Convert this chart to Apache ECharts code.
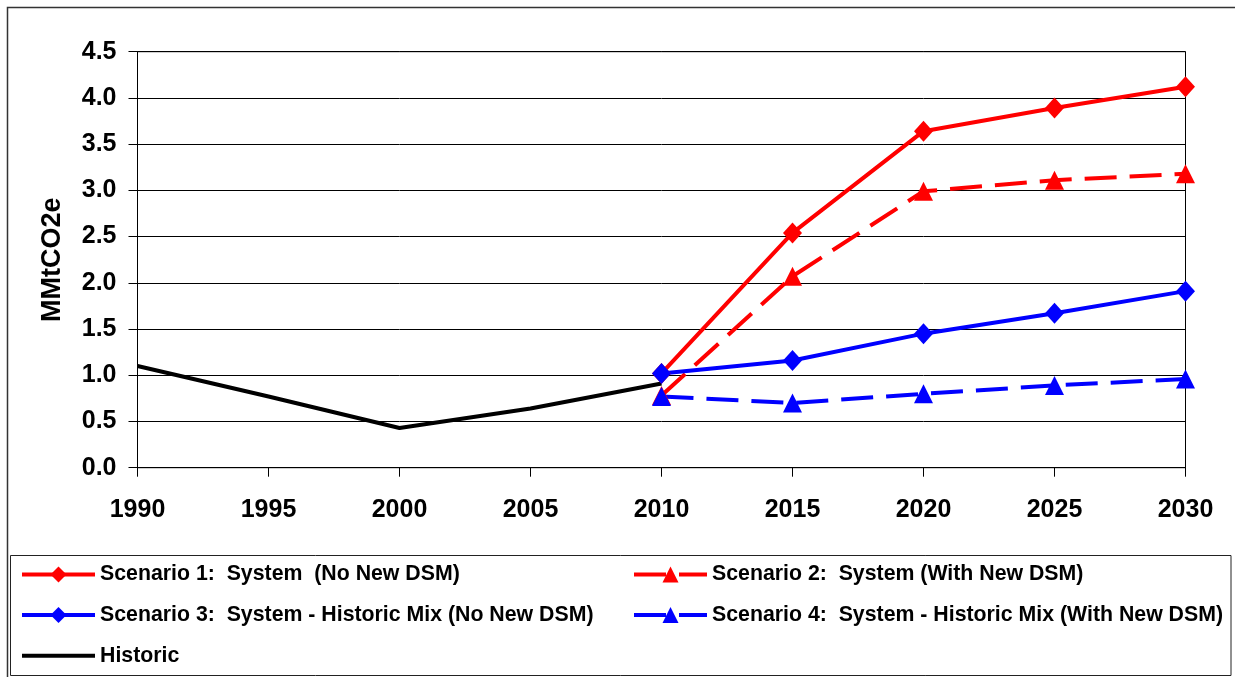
<!DOCTYPE html>
<html>
<head>
<meta charset="utf-8">
<script src="https://cdn.jsdelivr.net/npm/echarts@6/dist/echarts.min.js"></script>
<style>
  html, body { margin: 0; padding: 0; background: #fff; }
  #chart { width: 1235px; height: 677px; }
</style>
</head>
<body>
<div id="chart"></div>
<script>
// Emissions by year, MMtCO2e
const years = ['1990', '1995', '2000', '2005', '2010', '2015', '2020', '2025', '2030'];
const historic  = [1.10, 0.77, 0.43, 0.64, 0.91, null, null, null, null];
const scenario1 = [null, null, null, null, 1.02, 2.54, 3.64, 3.89, 4.12];
const scenario2 = [null, null, null, null, 0.78, 2.07, 2.99, 3.11, 3.18];
const scenario3 = [null, null, null, null, 1.02, 1.16, 1.45, 1.67, 1.91];
const scenario4 = [null, null, null, null, 0.77, 0.70, 0.80, 0.89, 0.96];

const names = [
  'Scenario 1:  System  (No New DSM)',
  'Scenario 2:  System (With New DSM)',
  'Scenario 3:  System - Historic Mix (No New DSM)',
  'Scenario 4:  System - Historic Mix (With New DSM)',
  'Historic'
];

const FONT = '"Liberation Sans", Arial, sans-serif';
const dash = [32, 13];

function lineSeries(name, data, color, symbol, dashed) {
  return {
    name: name,
    type: 'line',
    data: data,
    connectNulls: false,
    symbol: symbol,
    symbolSize: symbol === 'triangle' ? [19, 19] : [19, 21],
    showSymbol: symbol !== 'none',
    itemStyle: { color: color },
    lineStyle: { color: color, width: 4, type: dashed ? dash : 'solid', cap: 'butt' },
    emphasis: { disabled: true },
    animation: false
  };
}

// legend entry with the same thick stroke as the plotted line
function legendItem(name, dashed, noMarker) {
  const item = { name: name, lineStyle: { width: 4, type: dashed ? dash : 'solid' } };
  if (noMarker) item.itemStyle = { opacity: 0 };
  return item;
}

const chart = echarts.init(document.getElementById('chart'), null, { renderer: 'canvas' });

const legendText = { fontFamily: FONT, fontWeight: 'bold', fontSize: 21.3, color: '#000', lineHeight: 21 };

chart.setOption({
  backgroundColor: '#fff',
  animation: false,
  grid: {
    left: 137.5, right: 49.5, top: 51.7, bottom: 209.3,
    show: true, borderColor: '#000', borderWidth: 1, backgroundColor: 'transparent'
  },
  xAxis: {
    type: 'category',
    data: years,
    boundaryGap: false,
    axisLine: { show: true, lineStyle: { color: '#000', width: 1 } },
    axisTick: { show: true, inside: false, length: 9, interval: 0, lineStyle: { color: '#000' } },
    axisLabel: { interval: 0, margin: 30, fontFamily: FONT, fontWeight: 'bold', fontSize: 25, color: '#000' },
    splitLine: { show: false }
  },
  yAxis: {
    type: 'value',
    min: 0, max: 4.5, interval: 0.5,
    name: 'MMtCO2e',
    nameLocation: 'middle',
    nameRotate: 90,
    nameGap: 71,
    nameTextStyle: { fontFamily: FONT, fontWeight: 'bold', fontSize: 27, color: '#000' },
    axisLine: { show: true, lineStyle: { color: '#000', width: 1 } },
    axisTick: { show: true, inside: false, length: 9, lineStyle: { color: '#000' } },
    axisLabel: {
      margin: 21, fontFamily: FONT, fontWeight: 'bold', fontSize: 25, color: '#000',
      formatter: v => v.toFixed(1)
    },
    splitLine: { show: true, lineStyle: { color: '#000', width: 1 } }
  },
  legend: [
    {
      orient: 'vertical', left: 20, top: 564, padding: 0,
      itemWidth: 73, itemHeight: 20, itemGap: 19.6,
      data: [legendItem(names[0], false), legendItem(names[2], false), legendItem(names[4], false, true)],
      textStyle: legendText,
      selectedMode: false
    },
    {
      orient: 'vertical', left: 632, top: 564, padding: 0,
      itemWidth: 73, itemHeight: 20, itemGap: 19.6,
      data: [legendItem(names[1], true), legendItem(names[3], true)],
      textStyle: legendText,
      selectedMode: false
    }
  ],
  graphic: [
    {
      type: 'rect', silent: true, z: -1,
      shape: { x: 7.5, y: 7.5, width: 1240, height: 672 },
      style: { fill: 'none', stroke: '#333', lineWidth: 1.5 }
    },
    {
      type: 'rect', silent: true,
      shape: { x: 10.5, y: 555.5, width: 1220.5, height: 120 },
      style: { fill: 'none', stroke: '#222', lineWidth: 1 }
    }
  ],
  series: [
    lineSeries(names[0], scenario1, '#ff0000', 'diamond', false),
    lineSeries(names[1], scenario2, '#ff0000', 'triangle', true),
    lineSeries(names[2], scenario3, '#0000ff', 'diamond', false),
    lineSeries(names[3], scenario4, '#0000ff', 'triangle', true),
    lineSeries(names[4], historic, '#000000', 'none', false)
  ]
});
</script>
</body>
</html>
